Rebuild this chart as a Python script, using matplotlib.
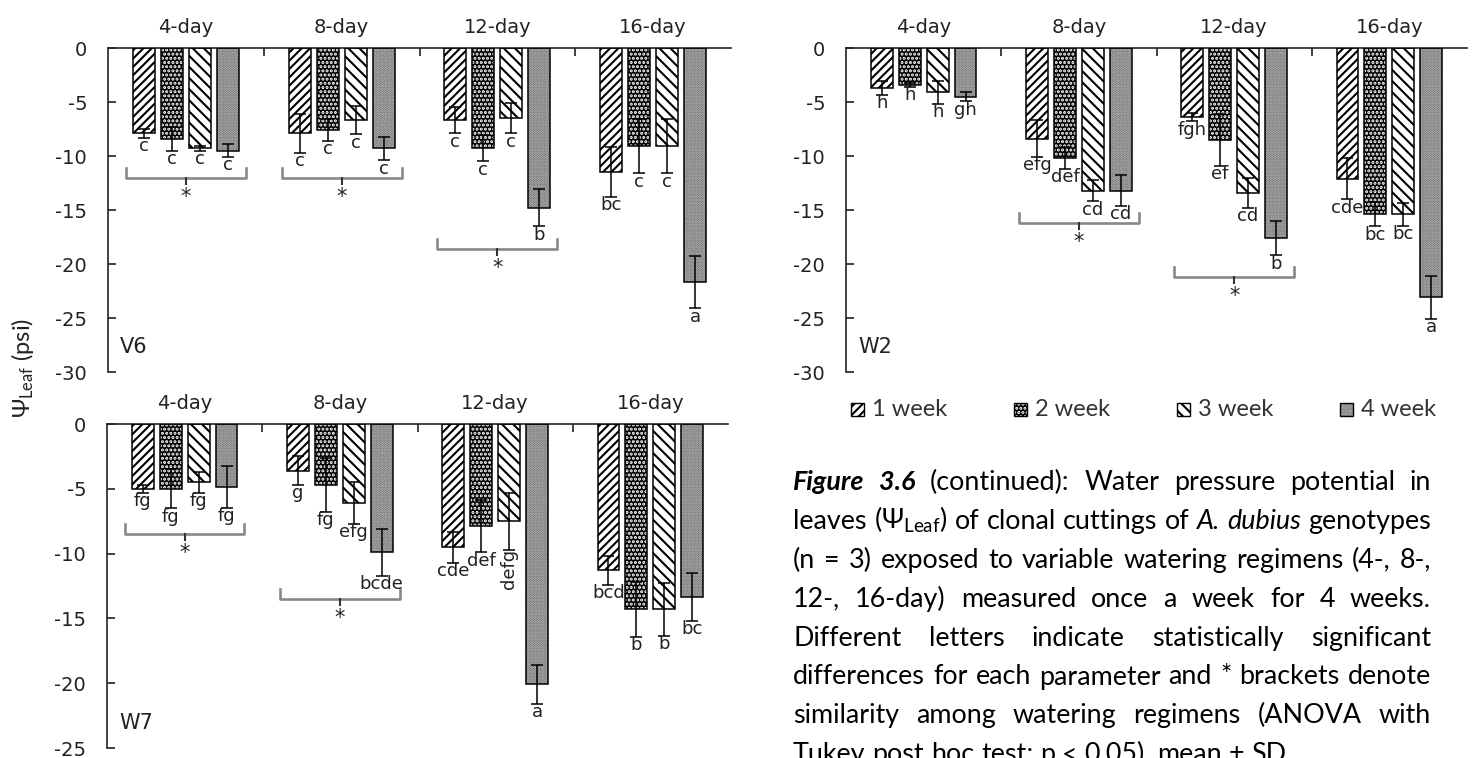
import numpy as np
import matplotlib
matplotlib.use('Agg')
import matplotlib.pyplot as plt
from matplotlib.patches import Rectangle

plt.rcParams['font.family'] = ['DejaVu Sans']
plt.rcParams['axes.unicode_minus'] = False
plt.rcParams['hatch.linewidth'] = 1.5
plt.rcParams['mathtext.fontset'] = 'custom'
plt.rcParams['mathtext.rm'] = 'Lato'
plt.rcParams['mathtext.it'] = 'Lato:italic'
plt.rcParams['mathtext.fallback'] = 'stixsans'

weeks = ['1 week', '2 week', '3 week', '4 week']
regimens = ['4-day', '8-day', '12-day', '16-day']

# rows = watering regimen, columns = week
v6_mean = [[-7.9, -8.4, -9.3, -9.5],
           [-7.9, -7.6, -6.7, -9.3],
           [-6.7, -9.3, -6.5, -14.8],
           [-11.5, -9.1, -9.1, -21.7]]
v6_sd = [[0.4, 1.1, 0.2, 0.6],
         [1.8, 1.0, 1.3, 1.1],
         [1.2, 1.2, 1.4, 1.7],
         [2.3, 2.5, 2.5, 2.4]]
v6_letters = [['c', 'c', 'c', 'c'],
              ['c', 'c', 'c', 'c'],
              ['c', 'c', 'c', 'b'],
              ['bc', 'c', 'c', 'a']]
v6_brackets = [(0, -12.0), (1, -12.0), (2, -18.6)]

w7_mean = [[-5.0, -5.0, -4.5, -4.85],
           [-3.6, -4.7, -6.1, -9.9],
           [-9.5, -7.9, -7.5, -20.1],
           [-11.3, -14.3, -14.3, -13.35]]
w7_sd = [[0.3, 1.5, 0.8, 1.6],
         [1.1, 2.1, 1.6, 1.8],
         [1.2, 2.0, 2.2, 1.5],
         [1.1, 2.1, 2.05, 1.85]]
w7_letters = [['fg', 'fg', 'fg', 'fg'],
              ['g', 'fg', 'efg', 'bcde'],
              ['cde', 'def', 'defg', 'a'],
              ['bcd', 'b', 'b', 'bc']]
w7_brackets = [(0, -8.45), (1, -13.5)]

w2_mean = [[-3.7, -3.4, -4.1, -4.5],
           [-8.4, -10.2, -13.2, -13.2],
           [-6.4, -8.5, -13.4, -17.6],
           [-12.1, -15.4, -15.4, -23.1]]
w2_sd = [[0.65, 0.2, 1.05, 0.45],
         [1.7, 1.0, 1.0, 1.4],
         [0.4, 2.4, 1.4, 1.6],
         [1.9, 1.1, 1.05, 2.0]]
w2_letters = [['h', 'h', 'h', 'gh'],
              ['efg', 'def', 'cd', 'cd'],
              ['fgh', 'ef', 'cd', 'b'],
              ['cde', 'bc', 'bc', 'a']]
w2_brackets = [(1, -16.2), (2, -21.2)]

caption = [
    '*Figure* *3.6* (continued): Water pressure potential in',
    'leaves (\u03a8$_{\\mathrm{Leaf}}$) of clonal cuttings of _A._ _dubius_ genotypes',
    '(n = 3) exposed to variable watering regimens (4-, 8-,',
    '12-, 16-day) measured once a week for 4 weeks.',
    'Different letters indicate statistically significant',
    'differences for each parameter and * brackets denote',
    'similarity among watering regimens (ANOVA with',
    'Tukey post hoc test; p < 0.05), mean \u00b1 SD.',
]

# fill, hatch, hatch colour for each week
styles = [('white', '////', 'black'),
          ('black', '....', 'white'),
          ('white', '\\\\\\', 'black'),
          ('#666666', '......', '#bdbdbd')]

W, H = 1474, 758
fig = plt.figure(figsize=(W / 100, H / 100), dpi=100)

step = 0.18
width = 0.141
ink = '#222222'


def panel(rect, means, sds, letters, brackets, ymin, name, vertical=()):
    ax = fig.add_axes([rect[0] / W, 1 - rect[3] / H,
                       (rect[2] - rect[0]) / W, (rect[3] - rect[1]) / H])
    means = np.array(means)
    sds = np.array(sds)
    x = np.arange(len(regimens))
    px = (rect[3] - rect[1]) / abs(ymin)  # pixels per psi
    for j in range(len(weeks)):
        xs = x + (j - 1.5) * step
        face, hatch, hc = styles[j]
        ax.bar(xs, means[:, j], width, color=face, hatch=hatch,
               edgecolor=hc, linewidth=0, zorder=2)
        ax.bar(xs, means[:, j], width, fill=False, edgecolor='black',
               linewidth=1.1, zorder=3)
        ax.errorbar(xs, means[:, j], yerr=sds[:, j], fmt='none', ecolor='black',
                    elinewidth=1.1, capsize=4, capthick=1.1, zorder=4)
        for i in range(len(regimens)):
            lab = letters[i][j]
            rot = 90 if (i, j) in vertical else 0
            ax.annotate(lab, xy=(xs[i], means[i, j] - sds[i, j]), xytext=(0, 0.5),
                        textcoords='offset points', ha='center', va='top',
                        rotation=rot, fontsize=13, color=ink, zorder=5)
    for g, yb in brackets:
        up = 10 / px
        dn = 6 / px
        ax.plot([g - 0.385, g - 0.385, g + 0.385, g + 0.385],
                [yb + up, yb, yb, yb + up], color='#888888', lw=1.9, zorder=2)
        ax.plot([g, g], [yb, yb - dn], color='#333333', lw=1.5, zorder=2)
        ax.annotate('*', xy=(g, yb), xytext=(0, -6.5), textcoords='offset points',
                    ha='center', va='top', fontsize=15, color=ink)

    ax.set_xlim(-0.5, 3.5)
    ax.set_ylim(ymin, 0)
    ax.set_yticks(np.arange(ymin, 1, 5))
    for s in ['bottom', 'right']:
        ax.spines[s].set_visible(False)
    for s in ['left', 'top']:
        ax.spines[s].set_linewidth(1.2)
        ax.spines[s].set_color(ink)
    ax.tick_params(axis='y', direction='in', length=6, width=1.2, pad=15,
                   labelsize=14, colors=ink)
    ax.xaxis.tick_top()
    ax.set_xticks(x)
    ax.set_xticklabels(regimens)
    ax.set_xticks([0.5, 1.5, 2.5], minor=True)
    ax.tick_params(axis='x', which='major', length=0, pad=8, labelsize=14,
                   colors=ink)
    ax.tick_params(axis='x', which='minor', direction='in', length=6, width=1.2,
                   colors=ink)
    ax.text(12 / (rect[2] - rect[0]), 25 / (rect[3] - rect[1]), name,
            transform=ax.transAxes, fontsize=15, va='center', ha='left',
            color=ink)
    return ax


# axes rectangles in pixels: left, top (value 0), right, bottom (ymin)
panel((108, 48, 731, 372), v6_mean, v6_sd, v6_letters, v6_brackets, -30, 'V6')
panel((107, 424, 728, 748), w7_mean, w7_sd, w7_letters, w7_brackets, -25, 'W7',
      vertical=[(2, 2)])
panel((846, 48, 1467, 372), w2_mean, w2_sd, w2_letters, w2_brackets, -30, 'W2')

fig.text(23 / W, 1 - 368 / H, '$\\Psi_{\\mathrm{Leaf}}$ (psi)', rotation=90,
         ha='center', va='center', fontsize=17, family=['Lato', 'Noto Sans'],
         color=ink)

# legend
box = 13
for j, lab in enumerate(weeks):
    x0 = 851 + j * 163
    face, hatch, hc = styles[j]
    fig.add_artist(Rectangle((x0 / W, 1 - (409 + box / 2) / H), box / W, box / H,
                             transform=fig.transFigure, facecolor=face,
                             hatch=hatch, edgecolor=hc, linewidth=0))
    fig.add_artist(Rectangle((x0 / W, 1 - (409 + box / 2) / H), box / W, box / H,
                             transform=fig.transFigure, fill=False,
                             edgecolor='black', linewidth=1.0))
    fig.text((x0 + box + 8) / W, 1 - 409 / H, lab, ha='left', va='center',
             fontsize=17, family=['Lato', 'Noto Sans'], color='#333333')

# justified caption block
r = fig.canvas.get_renderer()
cap_font = ['Lato', 'Noto Sans']
left, right = 793, 1431
base = 15.0


def token_style(tok):
    if len(tok) > 1 and tok.startswith('*') and tok.endswith('*'):
        return tok[1:-1], dict(fontweight='bold', style='italic')
    if len(tok) > 1 and tok.startswith('_') and tok.endswith('_'):
        return tok[1:-1], dict(style='italic')
    return tok, {}


def width_of(s, kw, size):
    t = fig.text(0, 0, s, fontsize=size, family=cap_font, **kw)
    w = t.get_window_extent(renderer=r).width
    t.remove()
    return w


space = width_of('x x', {}, base) - width_of('xx', {}, base)
natural = []
for line in caption[:-1]:
    toks = [token_style(t) for t in line.split(' ')]
    natural.append(sum(width_of(s, kw, base) for s, kw in toks) + space * (len(toks) - 1))
size = base * (right - left) / max(natural)
space = width_of('x x', {}, size) - width_of('xx', {}, size)

for k, line in enumerate(caption):
    toks = [token_style(t) for t in line.split(' ')]
    widths = [width_of(s, kw, size) for s, kw in toks]
    if k < len(caption) - 1:
        gap = (right - left - sum(widths)) / (len(toks) - 1)
    else:
        gap = space
    xp = left
    yb = 490 + k * 38.9
    for (s, kw), w in zip(toks, widths):
        fig.text(xp / W, 1 - yb / H, s, ha='left', va='baseline', fontsize=size,
                 family=cap_font, color='black', **kw)
        xp += w + gap

fig.savefig('out.png', dpi=100)
